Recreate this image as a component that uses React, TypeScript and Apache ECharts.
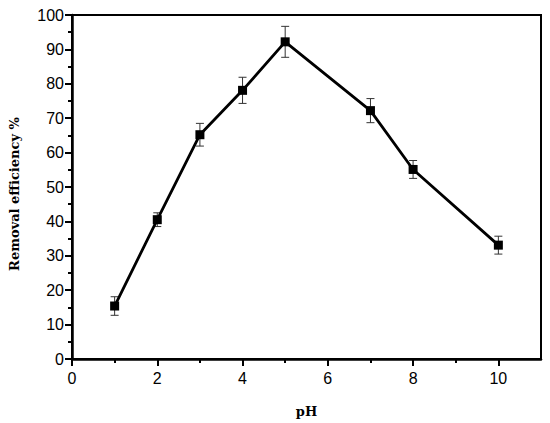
import React, { useEffect, useRef } from "react";
import * as echarts from "echarts";

const phValues = [1, 2, 3, 4, 5, 7, 8, 10];
const efficiency = [15.4, 40.5, 65.2, 78.1, 92.2, 72.2, 55.1, 33.1];
const errors = [2.7, 2.0, 3.3, 3.8, 4.5, 3.5, 2.6, 2.6];
const xMajorTicks = [0, 2, 4, 6, 8, 10];
const xMinorTicks = [1, 3, 5, 7, 9];

export default function App() {
  const ref = useRef<HTMLDivElement>(null);
  useEffect(() => {
    if (!ref.current) return;
    const chart = echarts.init(ref.current, null, { renderer: "svg" });
    const lineData = phValues.map((x, i) => [x, efficiency[i]]);
    const errData = phValues.map((x, i) => [x, efficiency[i] - errors[i], efficiency[i] + errors[i]]);
    const tickFont = { fontFamily: "Liberation Sans", fontSize: 16, color: "#000" };
    const nameFont = { fontFamily: "DejaVu Serif", fontWeight: "bold", fontSize: 13, color: "#000" };
    chart.setOption({
      animation: false,
      backgroundColor: "#fff",
      grid: {
        left: 71,
        top: 15,
        right: 9,
        bottom: 63,
        show: true,
        borderColor: "#000",
        borderWidth: 2,
        containLabel: false,
      },
      xAxis: [
        {
          type: "value",
          min: 0,
          max: 11,
          name: "pH",
          nameLocation: "middle",
          nameGap: 46,
          nameTextStyle: nameFont,
          axisLine: { show: true, lineStyle: { color: "#000", width: 2.5 } },
          axisTick: { show: true, customValues: xMajorTicks, length: 7, lineStyle: { color: "#000", width: 2 } },
          axisLabel: { customValues: xMajorTicks, margin: 11, ...tickFont },
          splitLine: { show: false },
        },
        {
          type: "value",
          min: 0,
          max: 11,
          position: "bottom",
          axisLine: { show: false },
          axisTick: { show: true, customValues: xMinorTicks, length: 4, lineStyle: { color: "#000", width: 2 } },
          axisLabel: { show: false },
          splitLine: { show: false },
        },
      ],
      yAxis: {
        type: "value",
        min: 0,
        max: 100,
        interval: 10,
        name: "Removal efficiency %",
        nameLocation: "middle",
        nameGap: 51,
        nameTextStyle: { ...nameFont, padding: [0, 14, 0, 0] },
        axisLine: { show: true, lineStyle: { color: "#000", width: 2.5 } },
        axisTick: { show: true, length: 7, lineStyle: { color: "#000", width: 2 } },
        minorTick: { show: true, splitNumber: 2, length: 4, lineStyle: { color: "#000", width: 2 } },
        axisLabel: { margin: 8, ...tickFont },
        splitLine: { show: false },
        minorSplitLine: { show: false },
      },
      series: [
        {
          type: "custom",
          xAxisIndex: 0,
          data: errData,
          z: 1,
          renderItem: (params: any, api: any) => {
            const x = api.value(0);
            const lo = api.coord([x, api.value(1)]);
            const hi = api.coord([x, api.value(2)]);
            const hw = 4;
            const style = { stroke: "#333", lineWidth: 1 };
            return {
              type: "group",
              children: [
                { type: "line", shape: { x1: lo[0], y1: lo[1], x2: hi[0], y2: hi[1] }, style },
                { type: "line", shape: { x1: lo[0] - hw, y1: lo[1], x2: lo[0] + hw, y2: lo[1] }, style },
                { type: "line", shape: { x1: hi[0] - hw, y1: hi[1], x2: hi[0] + hw, y2: hi[1] }, style },
              ],
            };
          },
        },
        {
          type: "line",
          xAxisIndex: 0,
          data: lineData,
          z: 2,
          symbol: "rect",
          symbolSize: 9,
          itemStyle: { color: "#000" },
          lineStyle: { color: "#000", width: 2.8 },
        },
      ],
    });
    return () => chart.dispose();
  }, []);
  return (
    <div
      ref={ref}
      style={{ position: "absolute", left: 0, top: 0, width: 550, height: 423 }}
    />
  );
}
